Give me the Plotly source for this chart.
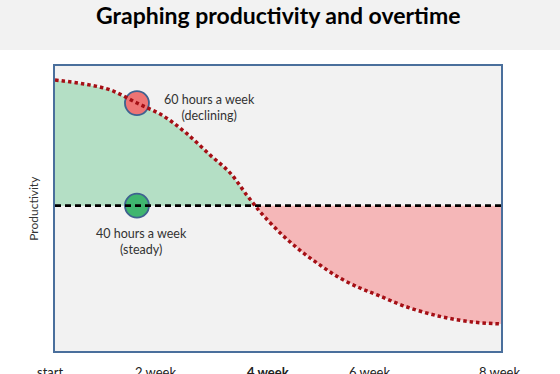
import plotly.graph_objects as go

# Data (x in weeks-ish units, y productivity 0-100)
curve_x = [0.0, 0.52, 0.99, 1.47, 1.94, 2.35, 2.78, 3.14, 3.44, 3.59, 3.68, 4.04, 4.39, 4.75, 5.11, 5.47, 5.79, 6.26, 6.87, 7.48, 8.0]
curve_y = [95.1, 93.7, 91.6, 87.0, 82.5, 76.5, 68.8, 62.5, 54.7, 51.0, 48.8, 41.4, 35.4, 30.2, 25.6, 22.1, 19.6, 15.8, 12.3, 10.2, 9.5]
baseline_y = 51.0
crossing_x = 3.59
marker_x = 1.47
marker_60_y = 87.0
tick_labels = ["start", "2 week", "4 week", "6 week", "8 week"]
tick_pos = [-0.09, 1.81, 3.82, 5.65, 7.98]
tick_bold = [False, False, True, False, False]

x_range = [0, 8]
font = "Lato, Calibri, Carlito, sans-serif"

above_x = [x for x in curve_x if x <= crossing_x]
above_y = [y for x, y in zip(curve_x, curve_y) if x <= crossing_x]
below_x = [x for x in curve_x if x >= crossing_x]
below_y = [y for x, y in zip(curve_x, curve_y) if x >= crossing_x]

fig = go.Figure()

# green fill (above baseline)
fig.add_trace(go.Scatter(x=above_x, y=[baseline_y] * len(above_x), mode="lines",
                         line=dict(width=0), hoverinfo="skip", showlegend=False))
fig.add_trace(go.Scatter(x=above_x, y=above_y, mode="lines", line=dict(width=0),
                         fill="tonexty", fillcolor="#b4dfc5", hoverinfo="skip", showlegend=False))
# red fill (below baseline)
fig.add_trace(go.Scatter(x=below_x, y=[baseline_y] * len(below_x), mode="lines",
                         line=dict(width=0), hoverinfo="skip", showlegend=False))
fig.add_trace(go.Scatter(x=below_x, y=below_y, mode="lines", line=dict(width=0),
                         fill="tonexty", fillcolor="#f5b7b8", hoverinfo="skip", showlegend=False))

# circles
fig.add_trace(go.Scatter(x=[marker_x], y=[marker_60_y], mode="markers",
                         marker=dict(size=24, color="#ee7474", line=dict(color="#3f6290", width=1.8)),
                         showlegend=False))
fig.add_trace(go.Scatter(x=[marker_x], y=[baseline_y], mode="markers",
                         marker=dict(size=24, color="#3fb56f", line=dict(color="#3f6290", width=1.8)),
                         showlegend=False))

# baseline (40 hours) dashed
fig.add_trace(go.Scatter(x=x_range, y=[baseline_y, baseline_y], mode="lines",
                         line=dict(color="black", width=2.6, dash="6px,4px"), showlegend=False))
# 60 hours dotted curve
fig.add_trace(go.Scatter(x=curve_x, y=curve_y, mode="lines", line_shape="spline",
                         line=dict(color="#a50f15", width=3.5, dash="3.5px,3px"), showlegend=False))

annotations = [
    dict(text="60 hours a week<br>(declining)", x=2.78, y=85.5, xref="x", yref="y",
         showarrow=False, font=dict(family=font, size=12.5, color="#333333")),
    dict(text="40 hours a week<br>(steady)", x=1.56, y=38.5, xref="x", yref="y",
         showarrow=False, font=dict(family=font, size=12.5, color="#333333")),
    dict(text="Productivity", x=-0.07, y=0.5, xref="paper", yref="paper", textangle=-90,
         showarrow=False, font=dict(family=font, size=12, color="#333333")),
    dict(text="<b>Graphing productivity and overtime</b>", x=0.5, y=1.178, xref="paper", yref="paper",
         xanchor="center", yanchor="middle", showarrow=False,
         font=dict(family=font, size=23, color="black")),
]
for lab, pos, b in zip(tick_labels, tick_pos, tick_bold):
    px = (pos - x_range[0]) / (x_range[1] - x_range[0])
    annotations.append(dict(text=f"<b>{lab}</b>" if b else lab, x=px, y=-0.04, xref="paper", yref="paper",
                            xanchor="center", yanchor="top", showarrow=False,
                            font=dict(family=font, size=13, color="#222222")))

fig.update_layout(
    width=560, height=374,
    margin=dict(l=55, r=59, t=66, b=23),
    paper_bgcolor="white",
    plot_bgcolor="#f2f2f2",
    annotations=annotations,
    shapes=[dict(type="rect", xref="paper", yref="paper", x0=-0.2, x1=1.2, y0=1.056, y1=1.3,
                 fillcolor="#f2f2f2", line=dict(width=0), layer="below")],
    xaxis=dict(range=x_range, showgrid=False, zeroline=False, showticklabels=False, ticks="",
               showline=True, mirror=True, linecolor="#4a6f9c", linewidth=1.6),
    yaxis=dict(range=[0, 100], showgrid=False, zeroline=False, showticklabels=False, ticks="",
               showline=True, mirror=True, linecolor="#4a6f9c", linewidth=1.6),
)

fig.write_html("out.html", config={"displayModeBar": False},
               post_script="document.body.style.margin='0';document.body.style.overflow='hidden';")
